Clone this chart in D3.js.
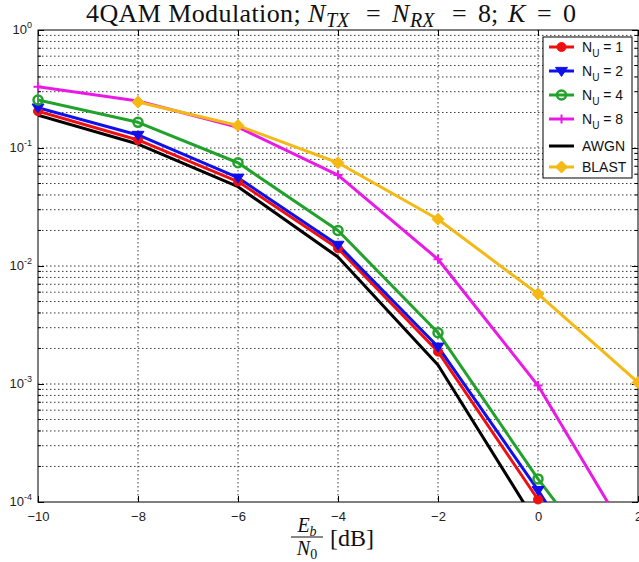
<!DOCTYPE html>
<html><head><meta charset="utf-8">
<script src="https://cdn.jsdelivr.net/npm/d3@7"></script>
<style>body{margin:0;background:#fff}svg{display:block}</style>
</head><body>
<svg id="chart" width="639" height="562"></svg>
<script>
const ebn0 = [-10, -8, -6, -4, -2, 0, 2];
const nu1 = [0.205, 0.117, 0.052, 0.0141, 0.00188, 1.05e-4, 1.5e-6];
const nu2 = [0.22, 0.129, 0.056, 0.0151, 0.00207, 1.26e-4, 6e-6];
const nu4 = [0.255, 0.165, 0.075, 0.020, 0.00272, 1.57e-4, 1.2e-5];
const nu8 = [0.33, 0.25, 0.15, 0.059, 0.0114, 0.00097, 3.7e-5];
const awgn = [0.19, 0.108, 0.047, 0.0119, 0.00145, 6.3e-5];
const blastX = [-8, -6, -4, -2, 0, 2];
const blast = [0.245, 0.155, 0.075, 0.0249, 0.0058, 0.00103];
const xTicks = [-10, -8, -6, -4, -2, 0, 2];
const yTicks = [1, 0.1, 0.01, 0.001, 0.0001];
const yExp = ["0", "-1", "-2", "-3", "-4"];

const series = [
  {name: "1", x: ebn0, y: nu1, color: "#ee1010", marker: "circle"},
  {name: "2", x: ebn0, y: nu2, color: "#1010ee", marker: "tri"},
  {name: "4", x: ebn0, y: nu4, color: "#22a22c", marker: "ocircle"},
  {name: "8", x: ebn0, y: nu8, color: "#ea1ae6", marker: "plus"},
  {name: "AWGN", x: ebn0, y: awgn, color: "#000000", marker: null},
  {name: "BLAST", x: blastX, y: blast, color: "#f4b914", marker: "diamond"}
];

const L = 38, R = 638, T = 30, B = 502;
const svg = d3.select("#chart");
const x = d3.scaleLinear().domain([-10, 2]).range([L, R]);
const y = d3.scaleLog().domain([1e-4, 1]).range([B, T]);

// grid
const grid = svg.append("g").attr("stroke", "#222").attr("stroke-width", 0.9).attr("stroke-dasharray", "1.5,2.5");
const minor = [];
for (let e = -4; e < 0; e++) for (let m = 1; m <= 9; m++) minor.push(m * Math.pow(10, e));
minor.filter(v => v > 1e-4 && v < 1).forEach(v => {
  grid.append("line").attr("x1", L).attr("x2", R).attr("y1", y(v)).attr("y2", y(v));
});
xTicks.filter(v => v > -10 && v < 2).forEach(v => {
  grid.append("line").attr("x1", x(v)).attr("x2", x(v)).attr("y1", T).attr("y2", B);
});

const fnt = "'Liberation Sans', Arial, sans-serif";
const xAxis = svg.append("g").attr("transform", `translate(0,${B})`)
  .call(d3.axisBottom(x).tickValues(xTicks).tickSize(-6).tickPadding(10).tickFormat(d => d < 0 ? "\u2212" + Math.abs(d) : d));
xAxis.select(".domain").remove();
xAxis.selectAll("text").attr("font-family", fnt).attr("font-size", 13).attr("fill", "#222");
const xTop = svg.append("g").attr("transform", `translate(0,${T})`)
  .call(d3.axisTop(x).tickValues(xTicks).tickSize(-6).tickFormat(""));
xTop.select(".domain").remove();

const yAxis = svg.append("g").attr("transform", `translate(${L},0)`)
  .call(d3.axisLeft(y).tickValues(yTicks).tickSize(-6).tickFormat(""));
yAxis.select(".domain").remove();
const yRight = svg.append("g").attr("transform", `translate(${R},0)`)
  .call(d3.axisRight(y).tickValues(yTicks).tickSize(-6).tickFormat(""));
yRight.select(".domain").remove();
const minorTicks = minor.filter(v => v > 1e-4 && v < 1 && Math.abs(Math.log10(v) - Math.round(Math.log10(v))) > 1e-6);
svg.append("g").selectAll("line").data(minorTicks).join("line")
  .attr("x1", L).attr("x2", L + 3).attr("y1", d => y(d)).attr("y2", d => y(d)).attr("stroke", "#000");
svg.append("g").selectAll("line").data(minorTicks).join("line")
  .attr("x1", R - 3).attr("x2", R).attr("y1", d => y(d)).attr("y2", d => y(d)).attr("stroke", "#000");

const yl = svg.append("g").attr("font-family", fnt).attr("fill", "#222");
yTicks.forEach((v, i) => {
  const t = yl.append("text").attr("x", 32).attr("y", y(v) + 4).attr("text-anchor", "end").attr("font-size", 13);
  t.append("tspan").text("10");
  t.append("tspan").attr("font-size", 9).attr("dy", -6).text(yExp[i]);
});

svg.append("rect").attr("x", L).attr("y", T).attr("width", R - L).attr("height", B - T)
  .attr("fill", "none").attr("stroke", "#000").attr("stroke-width", 1);

svg.append("clipPath").attr("id", "clip").append("rect").attr("x", L).attr("y", T).attr("width", R - L + 2).attr("height", B - T);

const line = d3.line().x(d => x(d[0])).y(d => y(d[1]));
const lines = svg.append("g").attr("clip-path", "url(#clip)");
series.forEach(s => {
  const pts = s.x.map((v, i) => [v, s.y[i]]);
  lines.append("path").attr("d", line(pts)).attr("fill", "none").attr("stroke", s.color).attr("stroke-width", 3).attr("stroke-linejoin", "round");
});

function drawMarker(g, type, cx, cy, color) {
  if (type === "circle") {
    g.append("circle").attr("cx", cx).attr("cy", cy).attr("r", 4.5).attr("fill", color).attr("stroke", color).attr("stroke-width", 1);
  } else if (type === "ocircle") {
    g.append("circle").attr("cx", cx).attr("cy", cy).attr("r", 4.5).attr("fill", "none").attr("stroke", color).attr("stroke-width", 2.5);
  } else if (type === "tri") {
    const r = 6;
    g.append("path").attr("d", `M${cx - r},${cy - r * 0.6}L${cx + r},${cy - r * 0.6}L${cx},${cy + r * 0.9}Z`).attr("fill", color).attr("stroke", color).attr("stroke-width", 1);
  } else if (type === "plus") {
    const r = 4.5;
    g.append("path").attr("d", `M${cx - r},${cy}H${cx + r}M${cx},${cy - r}V${cy + r}`).attr("stroke", color).attr("stroke-width", 2);
  } else if (type === "diamond") {
    const r = 6;
    g.append("path").attr("d", `M${cx},${cy - r}L${cx + r},${cy}L${cx},${cy + r}L${cx - r},${cy}Z`).attr("fill", color).attr("stroke", color).attr("stroke-width", 1);
  }
}
const mk = svg.append("g");
series.forEach(s => {
  if (!s.marker) return;
  s.x.forEach((v, i) => {
    if (s.y[i] < 1e-4 * 0.97) return;
    drawMarker(mk, s.marker, x(v), y(s.y[i]), s.color);
  });
});

// title
const serif = "'Liberation Serif', 'Times New Roman', serif";
const tg = svg.append("g").attr("font-family", serif).attr("font-size", 26).attr("fill", "#111");
function tt(xp, str, opts) {
  opts = opts || {};
  const t = tg.append("text").attr("x", xp).attr("y", (opts.sub ? 27 : 22)).text(str);
  if (opts.it) t.attr("font-style", "italic");
  if (opts.sub) t.attr("font-size", 20);
  if (opts.ls) t.attr("letter-spacing", opts.ls);
  return t;
}
tt(86, "4QAM Modulation;", {ls: 0.4});
tt(308, "N", {it: true});
tt(326, "TX", {it: true, sub: true});
tt(366, "=");
tt(392, "N", {it: true});
tt(410, "RX", {it: true, sub: true});
tt(452, "=");
tt(478, "8;");
tt(508, "K", {it: true});
tt(537, "=");
tt(563, "0");

// x label
const xl = svg.append("g").attr("font-family", serif).attr("fill", "#111");
const fx = 307;
const num = xl.append("text").attr("x", fx).attr("y", 532).attr("text-anchor", "middle").attr("font-size", 20);
num.append("tspan").attr("font-style", "italic").text("E");
num.append("tspan").attr("font-style", "italic").attr("font-size", 14).attr("dy", 4).text("b");
xl.append("line").attr("x1", fx - 16).attr("x2", fx + 16).attr("y1", 537).attr("y2", 537).attr("stroke", "#111").attr("stroke-width", 1);
const den = xl.append("text").attr("x", fx).attr("y", 555).attr("text-anchor", "middle").attr("font-size", 20);
den.append("tspan").attr("font-style", "italic").text("N");
den.append("tspan").attr("font-size", 14).attr("dy", 4).text("0");
xl.append("text").attr("x", fx + 23).attr("y", 546).attr("font-size", 24).text("[dB]");

// legend
const lg = svg.append("g");
lg.append("rect").attr("x", 543).attr("y", 37).attr("width", 89).attr("height", 141).attr("fill", "#fff").attr("stroke", "#000").attr("stroke-width", 1);
const rowY = [47, 71, 95, 119, 146, 167];
series.forEach((s, i) => {
  const ry = rowY[i];
  lg.append("line").attr("x1", 549).attr("x2", 574).attr("y1", ry).attr("y2", ry).attr("stroke", s.color).attr("stroke-width", 3);
  if (s.marker) drawMarker(lg, s.marker, 561.5, ry, s.color);
  const t = lg.append("text").attr("x", 582).attr("y", ry + 5).attr("font-family", fnt).attr("font-size", 14).attr("fill", "#111");
  if (i < 4) {
    t.append("tspan").text("N");
    t.append("tspan").attr("font-size", 10).attr("dy", 5).text("U");
    t.append("tspan").attr("dy", -5).text(" = " + s.name);
  } else {
    t.text(s.name);
  }
});
</script>
</body></html>
